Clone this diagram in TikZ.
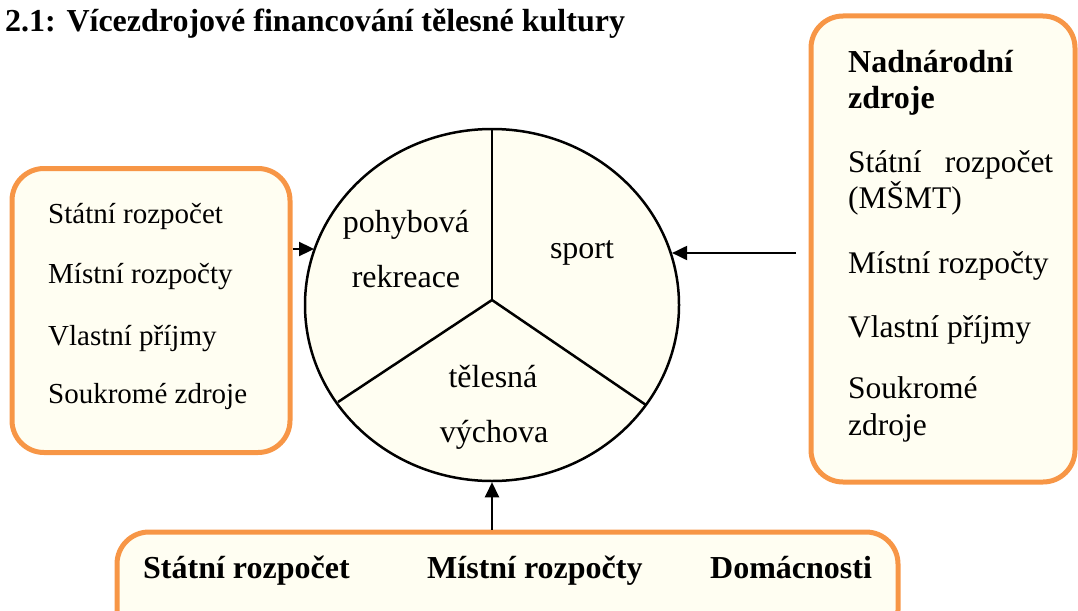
\documentclass[tikz,border=0pt]{standalone}
\usepackage{fontspec}
\setmainfont{Liberation Serif}
\usetikzlibrary{shapes.geometric,arrows.meta}
\definecolor{boxorange}{HTML}{F79646}
\definecolor{cream}{HTML}{FFFEF2}
\tikzset{
  srcbox/.style={draw=boxorange, line width=5pt, fill=cream, rounded corners=32pt, inner sep=0pt},
  arr/.style={line width=2pt, -{Triangle[length=15pt,width=14pt]}},
  spoke/.style={line width=2.5pt},
  lbl/.style={inner sep=0pt, anchor=base west},
  pielbl/.style={inner sep=0pt, anchor=base, font=\fontsize{32}{38}\selectfont},
  lefttxt/.style={lbl, font=\fontsize{29}{35}\selectfont},
  righttxt/.style={lbl, font=\fontsize{31.5}{36}\selectfont},
  boldtxt/.style={lbl, font=\fontsize{32}{36}\selectfont\bfseries}
}
\begin{document}
\begin{tikzpicture}[x=1pt,y=1pt]
\useasboundingbox (0,-610) rectangle (1078,0);
% title
\node[boldtxt] (title) at (5,-32) {2.1: Vícezdrojové financování tělesné kultury};
% boxes
\node[srcbox, minimum width=278pt, minimum height=284pt] (lbox) at (151,-310.5) {};
\node[srcbox, minimum width=264pt, minimum height=466pt] (rbox) at (943,-249) {};
\node[srcbox, minimum width=781pt, minimum height=110pt] (bbox) at (507.5,-587) {};
% pie
\node[ellipse, draw, line width=2.5pt, fill=cream, minimum width=374pt, minimum height=352pt, inner sep=0pt] (pie) at (492,-305) {};
\coordinate (hub) at (492,-300);
\draw[spoke] (hub) -- (pie.north);
\draw[spoke] (hub) -- (338,-402);
\draw[spoke] (hub) -- (646,-405);
\node[pielbl] (p1) at (406,-232) {pohybová};
\node[pielbl] (p2) at (406,-287) {rekreace};
\node[pielbl] (p3) at (582,-258) {sport};
\node[pielbl] (p4) at (493,-387) {tělesná};
\node[pielbl] (p5) at (494,-442) {výchova};
% left box text
\node[lefttxt] (l1) at (48,-223) {Státní rozpočet};
\node[lefttxt] (l2) at (48,-283) {Místní rozpočty};
\node[lefttxt] (l3) at (48,-345) {Vlastní příjmy};
\node[lefttxt] (l4) at (48,-403) {Soukromé zdroje};
% right box text
\node[boldtxt] (r1) at (848,-72) {Nadnárodní};
\node[boldtxt] (r2) at (848,-108) {zdroje};
\node[righttxt] (r3) at (848,-172) {\hbox to 205pt{Státní\hfill rozpočet}};
\node[righttxt] (r4) at (848,-208) {(MŠMT)};
\node[righttxt] (r5) at (848,-273) {Místní rozpočty};
\node[righttxt] (r6) at (848,-337) {Vlastní příjmy};
\node[righttxt] (r7) at (848,-398) {Soukromé};
\node[righttxt] (r8) at (848,-435) {zdroje};
% bottom box text
\node[boldtxt] (b1) at (143,-578) {Státní rozpočet};
\node[boldtxt] (b2) at (427,-578) {Místní rozpočty};
\node[boldtxt] (b3) at (710,-578) {Domácnosti};
% arrows
\coordinate (la) at (lbox.east |- 0,-249);
\draw[arr] (la) -- (pie.162.5 |- la);
\coordinate (ra) at (796,-253);
\draw[arr] (ra) -- (pie.16.2 |- ra);
\draw[arr] (bbox.north -| pie.south) -- (pie.south);
\end{tikzpicture}
\end{document}
